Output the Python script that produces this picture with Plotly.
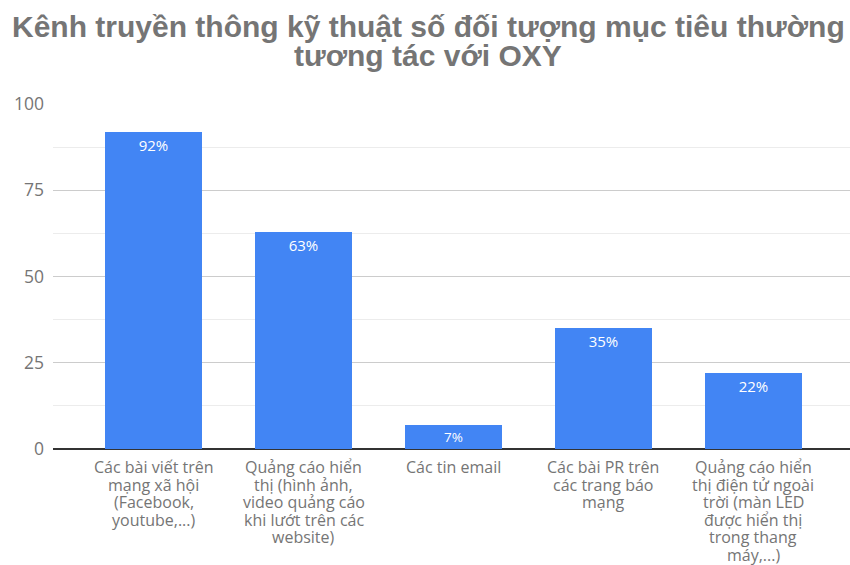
import plotly.graph_objects as go

category_lines = [
    ["Các bài viết trên", "mạng xã hội", "(Facebook,", "youtube,...)"],
    ["Quảng cáo hiển", "thị (hình ảnh,", "video quảng cáo", "khi lướt trên các", "website)"],
    ["Các tin email"],
    ["Các bài PR trên", "các trang báo", "mạng"],
    ["Quảng cáo hiển", "thị điện tử ngoài", "trời (màn LED", "được hiển thị", "trong thang", "máy,...)"],
]
values = [92, 63, 7, 35, 22]
labels = ["92%", "63%", "7%", "35%", "22%"]
y_ticks = [0, 25, 50, 75, 100]
title_lines = ["Kênh truyền thông kỹ thuật số đối tượng mục tiêu thường", "tương tác với OXY"]

x_idx = list(range(len(category_lines)))

fig = go.Figure(go.Bar(
    x=x_idx, y=values, width=0.647,
    marker=dict(color="#4285f4", line=dict(width=0)),
    text=labels, textposition="inside", insidetextanchor="end",
    textfont=dict(color="white", size=15, family="Open Sans"),
    cliponaxis=False,
))

fig.update_layout(
    width=850, height=565,
    margin=dict(l=53, r=0, t=104, b=116, autoexpand=False),
    paper_bgcolor="white", plot_bgcolor="white",
    showlegend=False,
    bargap=0,
    font=dict(family="Open Sans", color="#757575"),
    xaxis=dict(
        range=[-0.673, 4.647], automargin=False,
        tickmode="array", tickvals=x_idx, showticklabels=False,
        showgrid=False, zeroline=False, showline=False, ticks="",
    ),
    yaxis=dict(
        range=[0, 100], automargin=False,
        tickmode="array", tickvals=y_ticks,
        showgrid=True, gridcolor="#cccccc", gridwidth=1,
        zeroline=True, zerolinecolor="#333333", zerolinewidth=2,
        showline=False, ticks="",
        tickfont=dict(size=17.5, color="#757575", family="Open Sans"),
        ticklabelstandoff=8,
        minor=dict(dtick=12.5, tick0=0, showgrid=True, gridcolor="#ececec", gridwidth=1),
    ),
)

for i, lines in enumerate(category_lines):
    for j, line in enumerate(lines):
        fig.add_annotation(
            text=line, x=i, xref="x", y=0, yref="paper",
            yshift=-(18 + 17.5 * j), xanchor="center", yanchor="middle",
            showarrow=False,
            font=dict(family="Open Sans", size=16, color="#757575"),
        )

for i, line in enumerate(title_lines):
    fig.add_annotation(
        text=line, xref="paper", yref="paper", x=(428 - 53) / 797, y=1,
        yshift=104 - (26 + 29 * i), xanchor="center", yanchor="middle",
        showarrow=False,
        font=dict(family="Liberation Sans", size=30, color="#757575", weight="bold"),
    )

fig.write_html("out.html", config={"displayModeBar": False},
               post_script="document.body.style.margin='0';")
